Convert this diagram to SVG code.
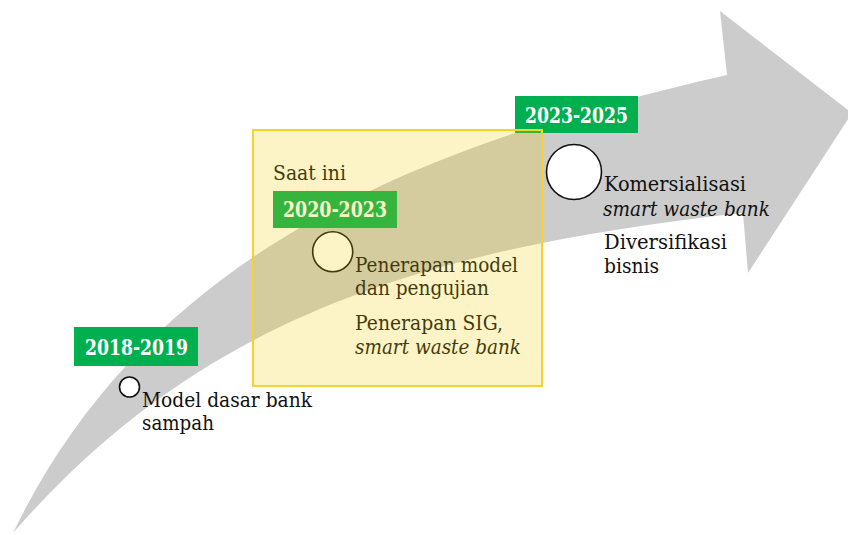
<svg xmlns="http://www.w3.org/2000/svg" width="848" height="535" viewBox="0 0 848 535">
  <style>
    .lbl { fill: #00B050; }
    .lbltxt { font-family: "DejaVu Serif", "Liberation Serif", serif; font-weight: bold; font-size: 22px; fill: #ffffff; }
    .txt { font-family: "DejaVu Serif", "Liberation Serif", serif; font-size: 21px; fill: #111111; }
    .it { font-style: italic; }
    .dot { fill: #ffffff; stroke: #111111; stroke-width: 1.6; }
  </style>
  <rect width="848" height="535" fill="#ffffff"/>
  <g id="arrow">
    <path d="M13,533 C150,250 420,145 727,75 L720,11 L852,113 L748,273 L743,213 C400,250 190,330 13,533 Z" fill="#CCCCCC"/>
  </g>
  <g id="stage-2018-2019">
    <rect class="lbl" x="74" y="327" width="124" height="39"/>
    <text class="lbltxt" x="85" y="355" textLength="103" lengthAdjust="spacingAndGlyphs">2018-2019</text>
    <circle class="dot" cx="129.5" cy="387" r="10"/>
    <text class="txt" x="142" y="407" textLength="170" lengthAdjust="spacingAndGlyphs">Model dasar bank</text>
    <text class="txt" x="142" y="430" textLength="72" lengthAdjust="spacingAndGlyphs">sampah</text>
  </g>
  <g id="stage-2020-2023">
    <text class="txt" x="273" y="180" textLength="73" lengthAdjust="spacingAndGlyphs">Saat ini</text>
    <rect class="lbl" x="273" y="191" width="124" height="37"/>
    <text class="lbltxt" x="283" y="217" textLength="104" lengthAdjust="spacingAndGlyphs">2020-2023</text>
    <circle class="dot" cx="332.7" cy="251.7" r="20"/>
    <text class="txt" x="355" y="272" textLength="163" lengthAdjust="spacingAndGlyphs">Penerapan model</text>
    <text class="txt" x="355" y="295" textLength="134" lengthAdjust="spacingAndGlyphs">dan pengujian</text>
    <text class="txt" x="355" y="330" textLength="148" lengthAdjust="spacingAndGlyphs">Penerapan SIG,</text>
    <text class="txt it" x="355" y="354" textLength="166" lengthAdjust="spacingAndGlyphs">smart waste bank</text>
  </g>
  <g id="stage-2023-2025">
    <rect class="lbl" x="515" y="96" width="123" height="37"/>
    <text class="lbltxt" x="525" y="123" textLength="103" lengthAdjust="spacingAndGlyphs">2023-2025</text>
    <circle class="dot" cx="574" cy="172" r="27.5"/>
    <text class="txt" x="604" y="191" textLength="142" lengthAdjust="spacingAndGlyphs">Komersialisasi</text>
    <text class="txt it" x="603" y="216" textLength="167" lengthAdjust="spacingAndGlyphs">smart waste bank</text>
    <text class="txt" x="604" y="249" textLength="123" lengthAdjust="spacingAndGlyphs">Diversifikasi</text>
    <text class="txt" x="604" y="273" textLength="55" lengthAdjust="spacingAndGlyphs">bisnis</text>
  </g>
  <g id="current-period">
    <rect x="253" y="130" width="289" height="256" fill="#F2C800" fill-opacity="0.22" stroke="#F5D230" stroke-width="2"/>
  </g>
</svg>
